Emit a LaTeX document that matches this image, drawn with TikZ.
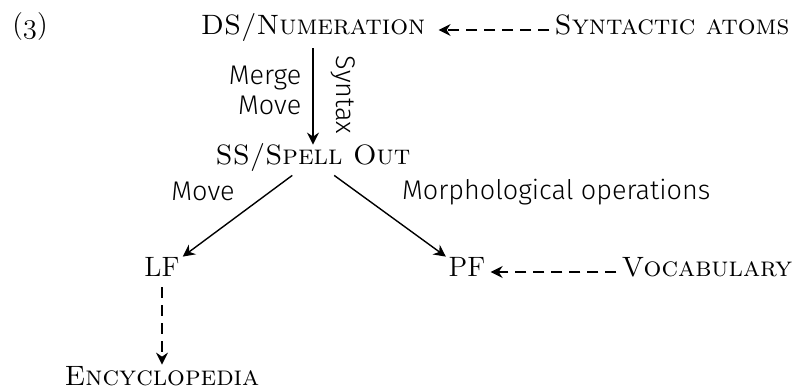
\documentclass[tikz,border=0pt]{standalone}
\usepackage{fontspec}
\newfontfamily\opfont{Fira Sans Light}
\usepackage{tikz}
\usetikzlibrary{arrows.meta}
\usetikzlibrary{positioning}
\tikzset{
  stage/.style={font=\fontsize{14}{17}\selectfont, inner sep=2.5pt,
    text height=0.75em, text depth=0.25em, anchor=base},
  oper/.style={font=\opfont\fontsize{13.5}{15}\selectfont, inner sep=2.5pt},
  derive/.style={-{Stealth[length=6pt,width=6pt,inset=2pt]}, line width=0.7pt},
  feed/.style={derive, dash pattern=on 5.5pt off 3.5pt}
}

\begin{document}
\begin{tikzpicture}[x=0.5pt,y=-0.5pt]
  \useasboundingbox (0,0) rectangle (801,389);
  \node[stage] (ex) at (30,34) {({\usefont{OML}{cmm}{m}{it}3})};
  \node[stage] (num) at (313,35) {\textsc{DS/Numeration}};
  \node[stage] (atoms) at (672,35) {\textsc{Syntactic atoms}};
  \node[stage] (ss) at (313,165) {\textsc{SS/Spell Out}};
  \node[stage] (lf) at (162,277) {LF};
  \node[stage] (pf) at (467,277) {PF};
  \node[stage] (voc) at (707,277) {\textsc{Vocabulary}};
  \node[stage] (enc) at (162,385) {\textsc{Encyclopedia}};
  % syntax
  \draw[derive, shorten <=1.5pt] (num) -- node[oper, pos=.45, left=3pt, align=right] (mm) {Merge\\Move}
    node[oper, midway, sloped, above=6pt] (syn) {Syntax} (ss);
  \draw[derive] (ss) -- node[oper, pos=.2, left=15pt] (mv) {Move} (lf);
  \draw[derive] (ss) -- node[oper, pos=.2, right=20pt, anchor=west] (morph) {Morphological operations} (pf);
  % lists
  \draw[feed, shorten >=4pt] (atoms.west) -- (atoms.west -| num.east);
  \draw[feed] (voc) -- (pf);
  \draw[feed] (lf) -- (enc);
\end{tikzpicture}
\end{document}
